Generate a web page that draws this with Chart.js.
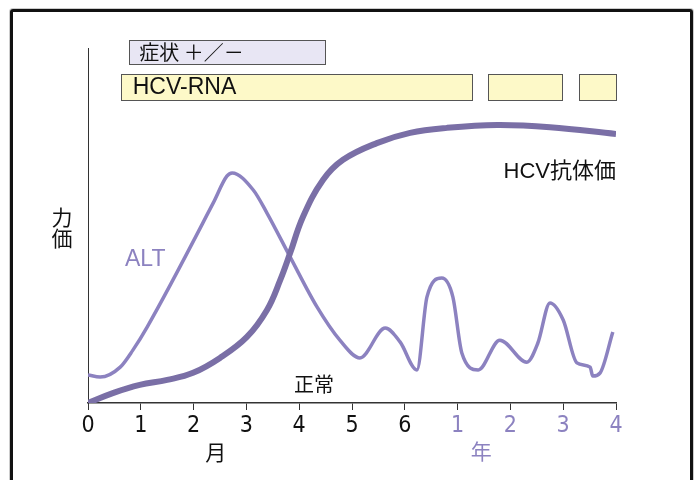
<!DOCTYPE html>
<html>
<head>
<meta charset="utf-8">
<script src="https://cdn.jsdelivr.net/npm/chart.js@4"></script>
<style>
  html, body { margin: 0; padding: 0; background: #fff; }
  #wrap { position: relative; width: 700px; height: 480px; overflow: hidden; }
  #frame { position: absolute; left: 10px; top: 9px; width: 677px; height: 520px;
           border: 3px solid #111; border-radius: 3px; box-shadow: 0 0 0 1px #ccc; }
  canvas { position: absolute; left: 0; top: 0; }
</style>
</head>
<body>
<div id="wrap">
  <div id="frame"></div>
  <canvas id="chart" width="700" height="480"></canvas>
</div>
<script>
// x: 0-6 = months, 7-10 = years 1-4
const xTickLabels = ['0', '1', '2', '3', '4', '5', '6', '1', '2', '3', '4'];

const altX = [0, 0.23, 0.61, 0.85, 1.12, 2.37, 2.63, 2.73, 3.13, 3.39, 3.83, 4.34, 4.77, 5.15,
  5.63, 5.91, 6.23, 6.42, 6.70, 6.91, 7.08, 7.39, 7.80, 8.31, 8.52, 8.75, 9.00, 9.26, 9.51, 9.56, 9.70, 9.94];
const altY = [7.9, 7.3, 10.1, 14.9, 21.4, 56.3, 63.9, 64.8, 60.0, 53.5, 41.1, 27.0, 17.7, 12.7,
  21.1, 17.2, 9.3, 29.9, 35.2, 29.9, 14.1, 9.3, 17.7, 11.5, 16.9, 28.2, 23.4, 11.3, 10.1, 7.6, 8.5, 20.0];

const hcvX = [0, 0.47, 0.98, 1.50, 1.99, 2.50, 3.01, 3.39, 3.64, 3.83, 4.07, 4.45, 4.83, 5.47, 6.10, 6.80, 7.75, 8.75, 10];
const hcvY = [0, 2.8, 5.1, 6.5, 8.5, 12.7, 18.6, 26.2, 34.6, 42.3, 52.4, 62.8, 68.5, 73.2, 76.1, 77.5, 78.3, 77.7, 75.8];

// periods on the x axis
const symptomSpans = [[0.78, 4.49]];
const rnaSpans = [[0.62, 7.27], [7.58, 8.98], [9.30, 10]];

const purple = '#8c82c0';
const darkPurple = '#7a6fa6';
const jp = "'Liberation Sans', 'Noto Sans CJK JP', sans-serif";

const toPoints = (xs, ys) => xs.map((x, i) => ({ x: x, y: ys[i] }));

const decor = {
  id: 'decor',
  afterDraw(chart) {
    const ctx = chart.ctx;
    const xs = chart.scales.x;
    const ys = chart.scales.y;

    const box = (spans, top, h, fill) => {
      spans.forEach(s => {
        const l = Math.round(xs.getPixelForValue(s[0])) + 0.5;
        const r = Math.round(xs.getPixelForValue(s[1])) + 0.5;
        ctx.fillStyle = fill;
        ctx.fillRect(l, top, r - l, h);
        ctx.strokeStyle = '#555';
        ctx.lineWidth = 1;
        ctx.strokeRect(l, top, r - l, h);
      });
    };
    ctx.save();
    box(symptomSpans, 40.5, 24, '#e8e6f4');
    box(rnaSpans, 74.5, 26, '#fdf9c8');

    ctx.textBaseline = 'middle';
    ctx.textAlign = 'left';
    ctx.fillStyle = '#111';
    ctx.font = "20px 'Noto Sans CJK JP', sans-serif";
    ctx.fillText('症状 ＋／－', xs.getPixelForValue(symptomSpans[0][0]) + 10, 52);
    ctx.font = "23px " + jp;
    ctx.fillText('HCV-RNA', xs.getPixelForValue(rnaSpans[0][0]) + 12, 88);

    ctx.font = "22px " + jp;
    ctx.textAlign = 'right';
    ctx.fillText('HCV抗体価', xs.getPixelForValue(10), ys.getPixelForValue(65));

    ctx.textAlign = 'left';
    ctx.font = "20px 'Noto Sans CJK JP', sans-serif";
    ctx.fillText('正常', xs.getPixelForValue(3.9), ys.getPixelForValue(5.3));

    ctx.fillStyle = purple;
    ctx.font = "23px " + jp;
    ctx.fillText('ALT', xs.getPixelForValue(0.7), ys.getPixelForValue(40.5));

    // axis unit labels
    ctx.textAlign = 'center';
    ctx.font = "21px 'Noto Sans CJK JP', sans-serif";
    ctx.fillStyle = '#111';
    ctx.fillText('月', xs.getPixelForValue(2.42), 452);
    ctx.fillStyle = purple;
    ctx.fillText('年', xs.getPixelForValue(7.45), 451);

    // y title, stacked
    ctx.fillStyle = '#111';
    ctx.fillText('力', 62, 217);
    ctx.fillText('価', 62, 238);
    ctx.restore();
  }
};

new Chart(document.getElementById('chart'), {
  type: 'line',
  data: {
    datasets: [
      {
        label: 'HCV抗体価',
        data: toPoints(hcvX, hcvY),
        borderColor: darkPurple,
        borderWidth: 6,
        pointRadius: 0,
        tension: 0.4,
        fill: false,
      },
      {
        label: 'ALT',
        data: toPoints(altX, altY),
        borderColor: purple,
        borderWidth: 3.5,
        pointRadius: 0,
        cubicInterpolationMode: 'monotone',
        fill: false,
      },
    ],
  },
  options: {
    responsive: false,
    animation: false,
    layout: { padding: { top: 48, right: 84, left: 0, bottom: 0 } },
    plugins: { legend: { display: false }, tooltip: { enabled: false } },
    scales: {
      x: {
        type: 'linear',
        min: 0,
        max: 10,
        afterFit(s) { s.height = 77; },
        ticks: {
          stepSize: 1,
          autoSkip: false,
          maxRotation: 0,
          padding: 2,
          font: { family: "'Liberation Sans Narrow', 'DejaVu Sans Condensed', sans-serif", size: 23 },
          color: c => (c.index > 6 ? purple : '#111'),
          callback: v => xTickLabels[Math.round(v)],
        },
        grid: { display: true, drawOnChartArea: false, tickLength: 7, color: '#333' },
        border: { display: true, color: '#333', width: 1.5 },
      },
      y: {
        min: 0,
        max: 100,
        afterFit(s) { s.width = 88; },
        ticks: { display: false },
        grid: { display: false },
        border: { display: true, color: '#333', width: 1 },
      },
    },
  },
  plugins: [decor],
});
</script>
</body>
</html>
